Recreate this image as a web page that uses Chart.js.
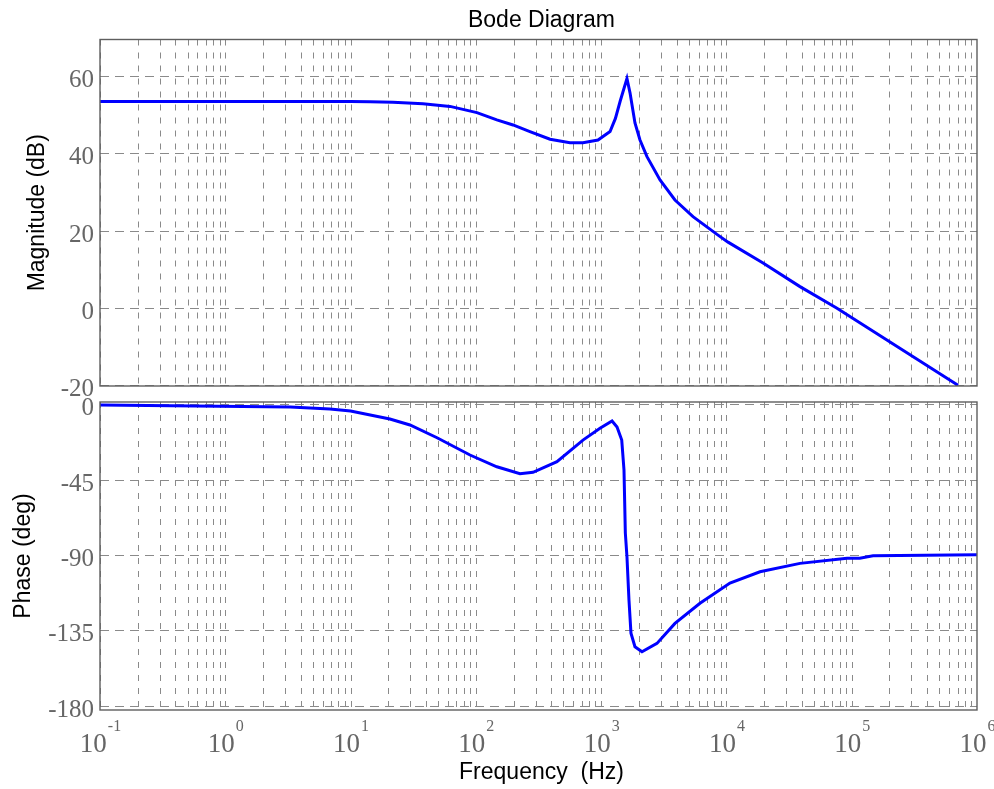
<!DOCTYPE html>
<html>
<head>
<meta charset="utf-8">
<title>Bode Diagram</title>
<script src="https://cdn.jsdelivr.net/npm/chart.js@4.4.1/dist/chart.umd.min.js"></script>
<style>
  html, body { margin: 0; padding: 0; background: #fff; }
  #wrap { position: relative; width: 994px; height: 789px; }
  canvas { position: absolute; left: 0; top: 0; }
</style>
</head>
<body>
<div id="wrap">
  <canvas id="magChart" width="994" height="789"></canvas>
  <canvas id="phaseChart" width="994" height="789"></canvas>
</div>
<script>
// frequency response, Hz
const magFreq = [0.1, 1, 10, 14.3, 21.8, 37.8, 62.2, 102, 147, 198, 270, 391, 564, 716, 944,
  1178, 1300, 1420, 1607, 1700, 1862, 2042, 2322, 2951, 3883, 5410, 8410, 10300, 19600, 38650, 76300, 705000];
const magDb = [53.4, 53.4, 53.4, 53.3, 53.2, 52.8, 52.1, 50.5, 48.6, 47.3, 45.6, 43.6, 42.7, 42.7, 43.4,
  45.6, 49.0, 53.5, 59.3, 55.6, 47.8, 43.4, 39.1, 33.1, 27.9, 23.6, 19.0, 17.0, 11.6, 5.5, -0.1, -20];

const phaseFreq = [0.1, 3.3, 6.85, 10, 20.6, 29.8, 49, 89.8, 147, 225, 286, 444, 716, 979,
  1222, 1339, 1460, 1522, 1560, 1607, 1668, 1730, 1862, 2118, 2790, 3883, 6150, 10670, 18530,
  38650, 91700, 116000, 148000, 1000000];
const phaseDeg = [-0.6, -1.8, -3.0, -4.2, -8.9, -12.5, -20.1, -30.4, -37.4, -41.6, -40.7, -34.4, -21.5, -14.5,
  -10.1, -13.7, -21.5, -39.4, -76.9, -91.0, -116.9, -136.6, -144.7, -147.7, -142.7, -130.8, -118.8, -106.7, -100.0,
  -95.0, -92.0, -92.0, -90.5, -89.8];

// axis ticks
const decades = [-1, 0, 1, 2, 3, 4, 5, 6];
const magTicks = [-20, 0, 20, 40, 60];
const phaseTicks = [-180, -135, -90, -45, 0];

const tickFont = '25px "Liberation Serif", "Times New Roman", serif';
const decFont = '27px "Liberation Serif", "Times New Roman", serif';
const supFont = '16px "Liberation Serif", "Times New Roman", serif';
const titleFont = '23px "Liberation Sans", Arial, sans-serif';
const tickColor = '#666666';
const gridColor = '#8a8a8a';

function toPoints(xs, ys) {
  return xs.map((v, i) => ({ x: v, y: ys[i] }));
}

function drawGrid(chart, yTicks) {
  const { ctx, chartArea: a, scales: { x, y } } = chart;
  ctx.save();
  ctx.strokeStyle = gridColor;
  ctx.lineWidth = 1;

  // vertical lines at 1..9 x 10^n
  ctx.setLineDash([6, 7]);
  for (let i = 0; i < decades.length - 1; i++) {
    for (let k = 1; k < 10; k++) {
      const px = Math.round(x.getPixelForValue(k * Math.pow(10, decades[i]))) + 0.5;
      ctx.beginPath();
      ctx.moveTo(px, a.top);
      ctx.lineTo(px, a.bottom);
      ctx.stroke();
    }
  }

  ctx.setLineDash([9, 6]);
  yTicks.forEach(t => {
    const py = Math.round(y.getPixelForValue(t)) + 0.5;
    ctx.beginPath();
    ctx.moveTo(a.left, py);
    ctx.lineTo(a.right, py);
    ctx.stroke();
  });
  ctx.restore();
}

function drawFrame(chart, yTicks) {
  const { ctx, chartArea: a, scales: { y } } = chart;
  ctx.save();
  ctx.strokeStyle = '#5e5e5e';
  ctx.lineWidth = 1.4;
  ctx.strokeRect(a.left, a.top, a.right - a.left, a.bottom - a.top);

  ctx.fillStyle = tickColor;
  ctx.font = tickFont;
  ctx.textAlign = 'right';
  ctx.textBaseline = 'alphabetic';
  yTicks.forEach(t => {
    ctx.fillText(String(t), a.left - 6, y.getPixelForValue(t) + 11);
  });
  ctx.restore();
}

function vText(ctx, text, x, y) {
  ctx.save();
  ctx.translate(x, y);
  ctx.rotate(-Math.PI / 2);
  ctx.textAlign = 'center';
  ctx.textBaseline = 'alphabetic';
  ctx.fillText(text, 0, 0);
  ctx.restore();
}

const magAxes = {
  id: 'magAxes',
  beforeDatasetsDraw(chart) { drawGrid(chart, magTicks); },
  afterDraw(chart) {
    drawFrame(chart, magTicks);
    const { ctx, chartArea: a } = chart;
    ctx.save();
    ctx.fillStyle = '#000';
    ctx.font = titleFont;
    ctx.textAlign = 'center';
    ctx.fillText('Bode Diagram', (a.left + a.right) / 2 + 3, 27);
    vText(ctx, 'Magnitude (dB)', 44, (a.top + a.bottom) / 2);
    ctx.restore();
  }
};

const phaseAxes = {
  id: 'phaseAxes',
  beforeDatasetsDraw(chart) { drawGrid(chart, phaseTicks); },
  afterDraw(chart) {
    drawFrame(chart, phaseTicks);
    const { ctx, chartArea: a, scales: { x } } = chart;
    ctx.save();

    // 10^n labels under the frequency axis
    ctx.fillStyle = tickColor;
    ctx.textAlign = 'left';
    ctx.textBaseline = 'alphabetic';
    decades.forEach(d => {
      const px = x.getPixelForValue(Math.pow(10, d));
      ctx.font = decFont;
      const wBase = ctx.measureText('10').width;
      ctx.font = supFont;
      const wSup = ctx.measureText(String(d)).width;
      const left = px - (wBase + wSup) / 2;
      ctx.font = decFont;
      ctx.fillText('10', left, a.bottom + 42);
      ctx.font = supFont;
      ctx.fillText(String(d), left + wBase + 1, a.bottom + 21);
    });

    ctx.fillStyle = '#000';
    ctx.font = titleFont;
    ctx.textAlign = 'center';
    ctx.fillText('Frequency  (Hz)', (a.left + a.right) / 2 + 3, a.bottom + 69);
    vText(ctx, 'Phase (deg)', 30, (a.top + a.bottom) / 2);
    ctx.restore();
  }
};

function bodeOptions(yMin, yMax, pad) {
  return {
    responsive: false,
    animation: false,
    devicePixelRatio: 1,
    layout: { padding: pad },
    plugins: { legend: { display: false }, tooltip: { enabled: false } },
    scales: {
      x: { type: 'logarithmic', min: 0.1, max: 1e6, display: false },
      y: { type: 'linear', min: yMin, max: yMax, display: false }
    }
  };
}

const lineStyle = {
  borderColor: '#0000ff',
  borderWidth: 3,
  pointRadius: 0,
  tension: 0,
  fill: false
};

new Chart(document.getElementById('magChart'), {
  type: 'line',
  data: { datasets: [{ label: 'Magnitude', data: toPoints(magFreq, magDb), ...lineStyle }] },
  options: bodeOptions(-20.2, 69.4, { left: 100, right: 17, top: 39.5, bottom: 403 }),
  plugins: [magAxes]
});

new Chart(document.getElementById('phaseChart'), {
  type: 'line',
  data: { datasets: [{ label: 'Phase', data: toPoints(phaseFreq, phaseDeg), ...lineStyle }] },
  options: bodeOptions(-182.4, 1.2, { left: 100, right: 17, top: 402, bottom: 79 }),
  plugins: [phaseAxes]
});
</script>
</body>
</html>
